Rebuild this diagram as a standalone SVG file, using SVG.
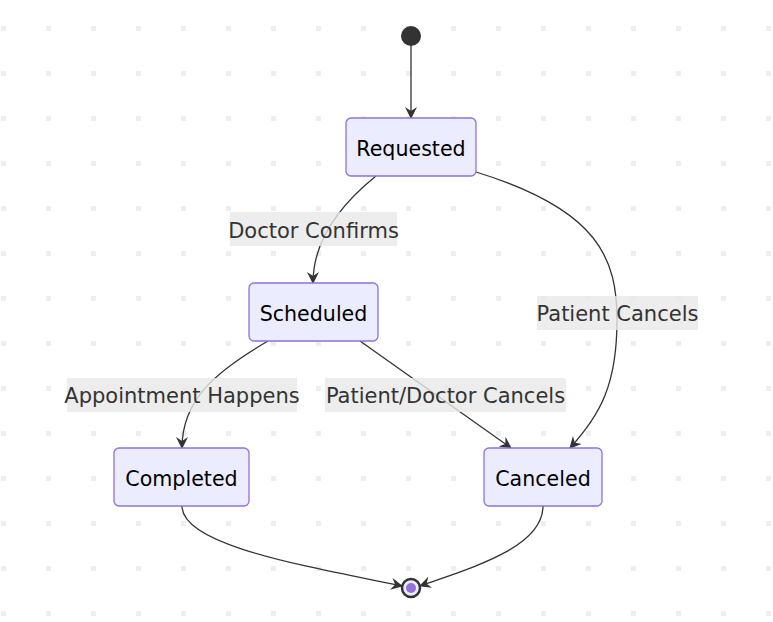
<svg xmlns="http://www.w3.org/2000/svg" width="773" height="622" viewBox="0 0 773 622">
<defs>
<pattern id="dots" x="1" y="26" width="45" height="45" patternUnits="userSpaceOnUse">
<rect x="0" y="0" width="5" height="5" fill="#eeeeee"/>
</pattern>
<marker id="arr" viewBox="0 0 12 12" refX="11" refY="6" markerWidth="12" markerHeight="12" markerUnits="userSpaceOnUse" orient="auto">
<path d="M0,0 L12,6 L0,12 L4,6 z" fill="#333333"/>
</marker>
<style>
.node rect{fill:#ECECFF;stroke:#9370DB;stroke-width:1.3}
.node text{font-family:"DejaVu Sans",Verdana,sans-serif;font-size:20.6px;fill:#000;text-anchor:middle;dominant-baseline:central}
.edge{fill:none;stroke:#333333;stroke-width:1.3;marker-end:url(#arr)}
.lbl rect{fill:#e8e8e8;opacity:0.8}
.lbl text{font-family:"DejaVu Sans",Verdana,sans-serif;font-size:21px;fill:#333;text-anchor:middle;dominant-baseline:central}
</style>
</defs>
<rect width="773" height="622" fill="#ffffff"/>
<rect width="773" height="622" fill="url(#dots)"/>
<g id="connectors">
<path class="edge" d="M411,43 L411,118"/>
<path class="edge" d="M376,176 C340,205 313,240 313,283"/>
<path class="edge" d="M476,172 C600,210 617,260 617,320 C617,385 600,415 570,448"/>
<path class="edge" d="M268,341 C215,372 182,400 182,448"/>
<path class="edge" d="M360,341 L511,448"/>
<path class="edge" d="M182,506 C182,545 300,565 402,586"/>
<path class="edge" d="M543,506 C543,548 470,568 420,586"/>
</g>
<g id="labels">
<g class="lbl" id="lbl-confirms"><rect x="230" y="212" width="167" height="34"/><text x="313.5" y="231">Doctor Confirms</text></g>
<g class="lbl" id="lbl-pcancels"><rect x="537" y="296" width="161" height="34"/><text x="617.5" y="314">Patient Cancels</text></g>
<g class="lbl" id="lbl-happens"><rect x="67" y="378" width="230" height="34"/><text x="182" y="396">Appointment Happens</text></g>
<g class="lbl" id="lbl-pdcancels"><rect x="325" y="378" width="241" height="34"/><text x="445.5" y="396">Patient/Doctor Cancels</text></g>
</g>
<g id="start"><circle cx="411" cy="36" r="10" fill="#333333"/></g>
<g id="requested" class="node"><rect x="346" y="118" width="130" height="58" rx="5"/><text x="411" y="149">Requested</text></g>
<g id="scheduled" class="node"><rect x="249" y="283" width="129" height="58" rx="5"/><text x="313.5" y="314">Scheduled</text></g>
<g id="completed" class="node"><rect x="114" y="448" width="135" height="58" rx="5"/><text x="181.5" y="479">Completed</text></g>
<g id="canceled" class="node"><rect x="484" y="448" width="118" height="58" rx="5"/><text x="543" y="479">Canceled</text></g>
<g id="end"><circle cx="411" cy="588" r="9" fill="#ECECFF" stroke="#333333" stroke-width="2.5"/><circle cx="411" cy="588" r="5" fill="#9370DB"/></g>
</svg>
